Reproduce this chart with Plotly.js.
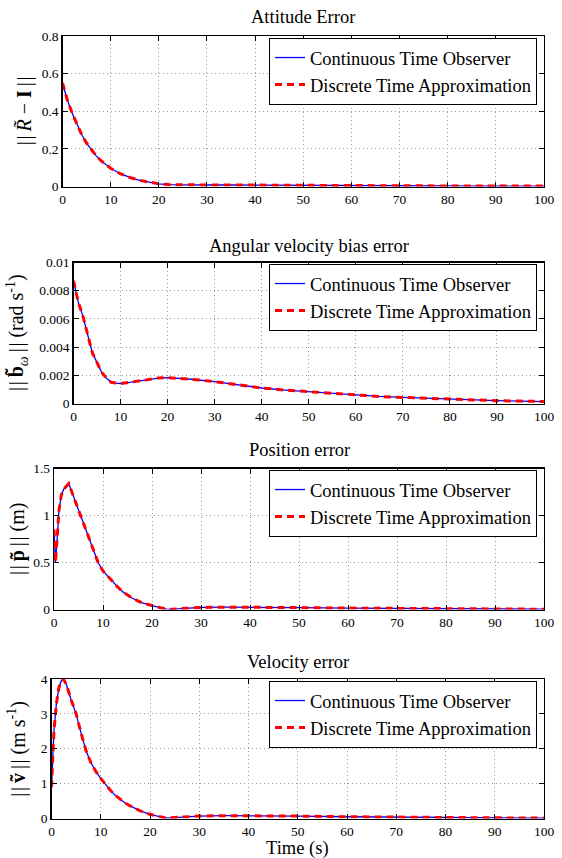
<!DOCTYPE html>
<html>
<head>
<meta charset="utf-8">
<script src="https://cdn.plot.ly/plotly-3.0.1.min.js"></script>
<style>html,body{margin:0;padding:0;background:#fff;}#chart{width:562px;height:858px;}</style>
</head>
<body>
<div id="chart"></div>
<script>
// ---- Data ----
const seriesNames = ["Continuous Time Observer", "Discrete Time Approximation"];
const titles = ["Attitude Error", "Angular velocity bias error", "Position error", "Velocity error"];
const yLabels = [
  "|\u200a|\u2009<i>R\u0303</i> \u2212 <b>I</b>\u2009|\u200a|",
  "|\u200a|\u2009<b>b\u0303</b><sub><i>\u03c9</i></sub>\u2009|\u200a| (rad s<sup>-1</sup>)",
  "|\u200a|\u2009<b>p\u0303</b>\u2009|\u200a| (m)",
  "|\u200a|\u2009<b>v\u0303</b>\u2009|\u200a| (m s<sup>-1</sup>)"
];
const xLabel = "Time (s)";

const tAtt = [0,1,2,3,4,5,6,7,8,9,10,12,14,16,18,20,22,25,30,35,40,50,60,70,80,90,100];
const attCont = [0.55,0.46,0.39,0.33,0.275,0.23,0.195,0.163,0.137,0.115,0.097,0.068,0.048,0.033,0.022,0.014,0.010,0.008,0.008,0.008,0.007,0.006,0.005,0.004,0.003,0.002,0.002];
const attDisc = [0.55,0.46,0.39,0.33,0.275,0.23,0.195,0.163,0.137,0.115,0.097,0.068,0.048,0.033,0.022,0.014,0.010,0.008,0.008,0.008,0.007,0.006,0.005,0.004,0.003,0.002,0.002];

const tBias = [0,0.5,1,2,3,4,5,6,7,8,9,10,12,14,16,18,20,22,25,30,35,40,45,50,55,60,65,70,75,80,85,90,95,100];
const biasCont = [0.0087,0.0079,0.0072,0.0062,0.0048,0.0036,0.0029,0.0022,0.0018,0.0015,0.00145,0.00142,0.0015,0.0016,0.00172,0.0018,0.00183,0.0018,0.00172,0.00155,0.00132,0.0011,0.00095,0.00083,0.0007,0.0006,0.0005,0.00043,0.00036,0.0003,0.00025,0.0002,0.00017,0.00014];
const biasDisc = [0.0087,0.0079,0.0072,0.0062,0.0048,0.0036,0.0029,0.0022,0.0018,0.0015,0.00145,0.00142,0.0015,0.0016,0.00172,0.0018,0.00183,0.0018,0.00172,0.00155,0.00132,0.0011,0.00095,0.00083,0.0007,0.0006,0.0005,0.00043,0.00036,0.0003,0.00025,0.0002,0.00017,0.00014];

const tPos = [0,0.3,0.7,1,1.5,2,3,4,5,6,7,8,9,10,11,12,13,14,15,16,18,20,22,23,24,26,30,35,40,50,60,70,80,90,100];
const posCont = [0.85,0.5,0.8,1.05,1.22,1.28,1.34,1.2,1.05,0.92,0.78,0.63,0.5,0.41,0.35,0.3,0.24,0.19,0.15,0.12,0.07,0.04,0.015,0.005,0.002,0.01,0.022,0.025,0.025,0.02,0.015,0.01,0.008,0.005,0.003];
const posDisc = [0.85,0.5,0.8,1.05,1.22,1.28,1.34,1.2,1.05,0.92,0.78,0.63,0.5,0.41,0.35,0.3,0.24,0.19,0.15,0.12,0.07,0.04,0.015,0.005,0.002,0.01,0.022,0.025,0.025,0.02,0.015,0.01,0.008,0.005,0.003];

const tVel = [0,0.25,0.5,0.75,1,1.5,2,2.4,3,4,5,6,7,8,9,10,11,12,13,14,15,16,18,20,22,23,24,26,30,35,40,50,60,70,80,90,100];
const velCont = [0.9,1.8,2.5,2.9,3.3,3.75,3.95,4.0,3.85,3.4,3.0,2.45,1.95,1.6,1.35,1.15,0.97,0.8,0.66,0.54,0.44,0.36,0.22,0.12,0.04,0.02,0.02,0.04,0.07,0.08,0.08,0.07,0.05,0.04,0.03,0.02,0.01];
const velDisc = [0.9,1.8,2.5,2.9,3.3,3.75,3.95,4.0,3.85,3.4,3.0,2.45,1.95,1.6,1.35,1.15,0.97,0.8,0.66,0.54,0.44,0.36,0.22,0.12,0.04,0.02,0.02,0.04,0.07,0.08,0.08,0.07,0.05,0.04,0.03,0.02,0.01];

const yRanges = [[0,0.8],[0,0.01],[0,1.5],[0,4]];
const yDticks = [0.2,0.002,0.5,1];

// ---- Layout geometry (pixels) ----
const W = 562, H = 858;
const FONT = "Liberation Serif";
const boxes = [
  {l:62.5, r:544, t:36, b:186.5, legTop:38, titleY:17, ylabX:24},
  {l:73.5, r:544, t:262.5, b:403.5, legTop:264, titleY:246, ylabX:17},
  {l:54, r:544, t:468.5, b:609.5, legTop:470, titleY:450, ylabX:17},
  {l:51.5, r:544, t:679, b:818.5, legTop:681, titleY:662, ylabX:17}
];
const xs = [tAtt, tBias, tPos, tVel];
const cont = [attCont, biasCont, posCont, velCont];
const disc = [attDisc, biasDisc, posDisc, velDisc];

const traces = [];
const layout = {
  width: W, height: H,
  margin: {l:0, r:0, t:0, b:0},
  paper_bgcolor: "#fff", plot_bgcolor: "#fff",
  font: {family: FONT, color: "#000", size: 13},
  annotations: [],
  showlegend: true
};

boxes.forEach((bx, i) => {
  const n = i === 0 ? "" : String(i + 1);
  const legName = "legend" + n;
  traces.push({
    x: xs[i], y: cont[i], type: "scatter", mode: "lines",
    name: seriesNames[0], xaxis: "x" + n, yaxis: "y" + n, legend: legName,
    line: {color: "#0000ff", width: 1.3}
  });
  traces.push({
    x: xs[i], y: disc[i], type: "scatter", mode: "lines",
    name: seriesNames[1], xaxis: "x" + n, yaxis: "y" + n, legend: legName,
    line: {color: "#ff0000", width: 3, dash: "7px,5px"}
  });
  const axCommon = {
    showline: true, linecolor: "#000", linewidth: 1.2, mirror: "ticks",
    ticks: "inside", ticklen: 5, tickcolor: "#000", tickwidth: 1,
    showgrid: true, gridcolor: "#999", griddash: "1px,3px", gridwidth: 1,
    zeroline: false, tickfont: {family: FONT, size: 13.5, color: "#000"}
  };
  layout["xaxis" + n] = Object.assign({}, axCommon, {
    domain: [bx.l / W, bx.r / W], range: [0, 100], dtick: 10, tick0: 0,
    anchor: "y" + n
  });
  layout["yaxis" + n] = Object.assign({}, axCommon, {
    domain: [1 - bx.b / H, 1 - bx.t / H], range: yRanges[i], dtick: yDticks[i], tick0: 0,
    anchor: "x" + n
  });
  layout[legName] = {
    x: 537 / W, xanchor: "right", y: 1 - bx.legTop / H, yanchor: "top",
    xref: "paper", yref: "paper",
    bgcolor: "#fff", bordercolor: "#000", borderwidth: 1,
    font: {family: FONT, size: 18.5, color: "#000"},
    tracegroupgap: 0, itemwidth: 30
  };
  layout.annotations.push({
    text: titles[i], xref: "paper", yref: "paper",
    x: (bx.l + bx.r) / 2 / W, y: 1 - bx.titleY / H, xanchor: "center", yanchor: "middle",
    showarrow: false, font: {family: FONT, size: 18.5, color: "#000"}
  });
  layout.annotations.push({
    text: yLabels[i], xref: "paper", yref: "paper", textangle: -90,
    x: bx.ylabX / W, y: 1 - (bx.t + bx.b) / 2 / H, xanchor: "center", yanchor: "middle",
    showarrow: false, font: {family: FONT, size: 20, color: "#000"}
  });
});

layout.annotations.push({
  text: xLabel, xref: "paper", yref: "paper",
  x: (boxes[3].l + boxes[3].r) / 2 / W, y: 1 - 848 / H, xanchor: "center", yanchor: "middle",
  showarrow: false, font: {family: FONT, size: 18.5, color: "#000"}
});

Plotly.newPlot("chart", traces, layout, {displayModeBar: false, staticPlot: true});
</script>
</body>
</html>
